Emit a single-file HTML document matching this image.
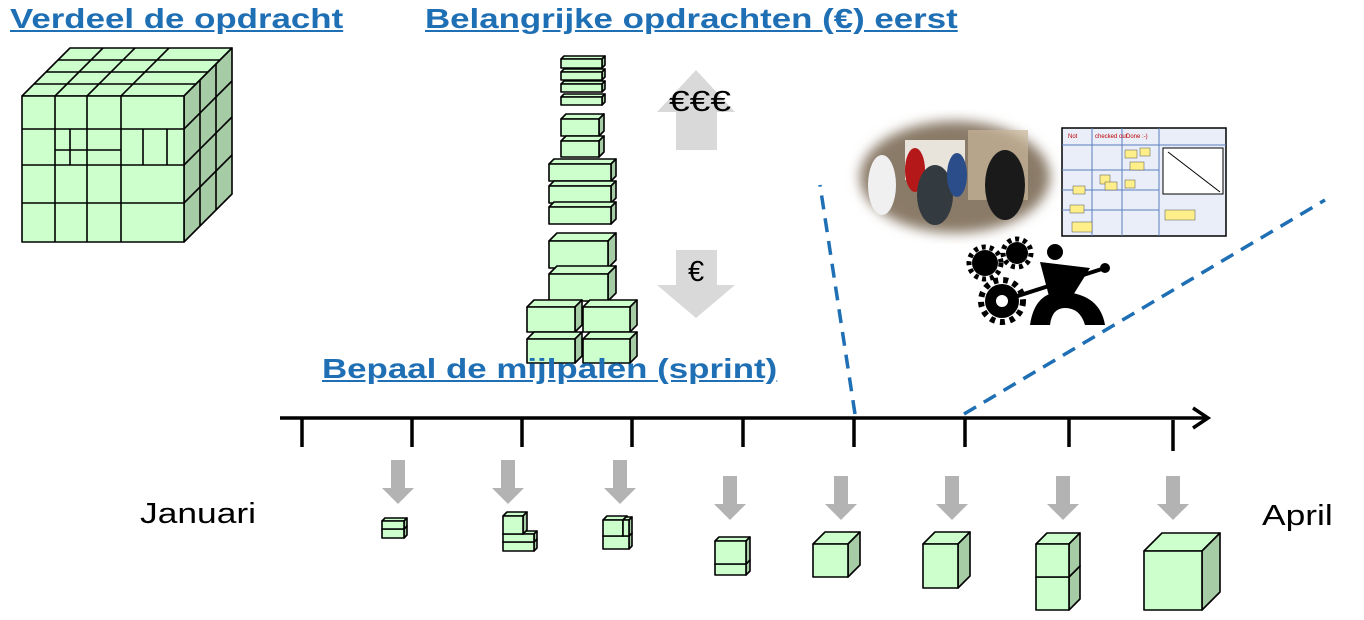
<!DOCTYPE html>
<html><head><meta charset="utf-8"><style>
body{margin:0;width:1364px;height:620px;background:#fff;overflow:hidden;position:relative;font-family:"Liberation Sans",Arial,sans-serif}
.t{position:absolute;color:#1f6fb5;font-weight:bold;font-size:28px;text-decoration:underline;white-space:nowrap;transform:scaleX(1.245);transform-origin:0 0}
.l{position:absolute;font-size:29px;color:#000;white-space:nowrap;transform:scaleX(1.22);transform-origin:0 0}
svg{position:absolute;left:0;top:0}
</style></head><body>
<svg id="s" width="1364" height="620" viewBox="0 0 1364 620">
<defs><filter id="bl"><feGaussianBlur stdDeviation="6"/></filter></defs>
<polygon points="696,70 735,112 717,112 717,150 676,150 676,112 657,112" fill="#d9d9d9"/>
<polygon points="676,250 717,250 717,285 735,285 696,318 657,285 676,285" fill="#d9d9d9"/>
<text x="669" y="111" font-size="29" font-family="Liberation Sans" textLength="62" lengthAdjust="spacingAndGlyphs">€€€</text>
<text x="688" y="281" font-size="29" font-family="Liberation Sans">€</text>
<line x1="280" y1="418" x2="1206" y2="418" stroke="#000" stroke-width="3.5"/>
<polyline points="1193,408 1208,418 1193,428" fill="none" stroke="#000" stroke-width="3.5"/>
<g stroke="#000" stroke-width="3.5">
<line x1="302" y1="418" x2="302" y2="447"/><line x1="412" y1="418" x2="412" y2="447"/><line x1="522" y1="418" x2="522" y2="447"/><line x1="632" y1="418" x2="632" y2="447"/><line x1="743" y1="418" x2="743" y2="447"/><line x1="854" y1="418" x2="854" y2="447"/><line x1="965" y1="418" x2="965" y2="447"/><line x1="1069" y1="418" x2="1069" y2="447"/><line x1="1173" y1="420" x2="1173" y2="451"/>
</g>
<g stroke="#1f6fb5" stroke-width="3.5" stroke-dasharray="14 9" fill="none">
<line x1="855" y1="414" x2="820" y2="185"/>
<line x1="964" y1="414" x2="1325" y2="200"/>
</g>
<g>
<ellipse cx="955" cy="177" rx="95" ry="56" fill="#8a7a68" filter="url(#bl)"/>
<rect x="905" y="140" width="60" height="40" fill="#e8e4dc"/>
<rect x="968" y="130" width="60" height="70" fill="#c9b79a" opacity=".7"/>
<ellipse cx="882" cy="185" rx="14" ry="30" fill="#f0f0f0"/>
<ellipse cx="915" cy="170" rx="10" ry="22" fill="#b41818"/>
<ellipse cx="935" cy="195" rx="18" ry="30" fill="#333a40"/>
<ellipse cx="957" cy="175" rx="10" ry="22" fill="#2b4e8a"/>
<ellipse cx="1005" cy="185" rx="20" ry="35" fill="#1a1a1a"/>
</g>
<rect x="1062" y="128" width="164" height="108" fill="#e9eef8" stroke="#000" stroke-width="1.5"/>
<g stroke="#5a7fc0" stroke-width="1">
<line x1="1092" y1="128" x2="1092" y2="236"/><line x1="1122" y1="128" x2="1122" y2="236"/><line x1="1159" y1="128" x2="1159" y2="236"/>
<line x1="1062" y1="145" x2="1226" y2="145"/><line x1="1062" y1="170" x2="1159" y2="170"/><line x1="1062" y1="190" x2="1159" y2="190"/><line x1="1062" y1="210" x2="1159" y2="210"/>
</g>
<rect x="1163" y="148" width="60" height="46" fill="#fff" stroke="#000"/>
<line x1="1168" y1="152" x2="1220" y2="192" stroke="#000"/>
<g fill="#ffef8a" stroke="#555" stroke-width=".5">
<rect x="1125" y="150" width="12" height="8"/><rect x="1140" y="148" width="10" height="8"/><rect x="1130" y="162" width="14" height="8"/><rect x="1100" y="175" width="10" height="9"/><rect x="1105" y="182" width="12" height="8"/><rect x="1073" y="186" width="12" height="8"/><rect x="1070" y="205" width="14" height="8"/><rect x="1072" y="222" width="20" height="10"/><rect x="1165" y="210" width="30" height="10"/><rect x="1125" y="180" width="10" height="8"/>
</g>
<text x="1068" y="138" font-size="6" fill="#b00">Not</text><text x="1095" y="138" font-size="6" fill="#b00">checked out</text><text x="1126" y="138" font-size="6" fill="#b00">Done :-)</text>
<g fill="#000">
<circle cx="985" cy="263" r="13"/><circle cx="1017" cy="253" r="11"/><circle cx="1002" cy="301" r="17"/>
<circle cx="985" cy="263" r="16" fill="none" stroke="#000" stroke-width="5" stroke-dasharray="4 4"/>
<circle cx="1017" cy="253" r="14" fill="none" stroke="#000" stroke-width="5" stroke-dasharray="4 4"/>
<circle cx="1002" cy="301" r="21" fill="none" stroke="#000" stroke-width="6" stroke-dasharray="5 5"/>
<circle cx="1055" cy="252" r="8"/>
<polygon points="1040,262 1090,268 1070,300 1050,300"/>
<path d="M1030,325 Q1035,290 1065,292 Q1100,295 1105,325 L1085,325 Q1080,308 1065,308 Q1052,308 1050,325Z"/>
<line x1="1005" y1="300" x2="1105" y2="268" stroke="#000" stroke-width="4"/>
<circle cx="1105" cy="268" r="5"/>
<circle cx="1002" cy="301" r="6" fill="#fff"/>
</g>
</svg>
<div class="t" style="left:10px;top:3px">Verdeel de opdracht</div>
<div class="t" style="left:425px;top:3px">Belangrijke opdrachten (€) eerst</div>
<div class="t" style="left:322px;top:353px">Bepaal de mijlpalen (sprint)</div>
<div class="l" style="left:140px;top:498px">Januari</div>
<div class="l" style="left:1262px;top:500px">April</div>
<script>
var s=document.getElementById('s'),NS='http://www.w3.org/2000/svg';
function P(pts,f){var p=document.createElementNS(NS,'polygon');p.setAttribute('points',pts);p.setAttribute('fill',f);p.setAttribute('stroke','#000');p.setAttribute('stroke-width','1.6');p.setAttribute('stroke-linejoin','round');s.appendChild(p);}
function B(x,y,w,h,d){
P(x+','+y+' '+(x+d)+','+(y-d)+' '+(x+w+d)+','+(y-d)+' '+(x+w)+','+y,'#ccffcc');
P((x+w)+','+y+' '+(x+w+d)+','+(y-d)+' '+(x+w+d)+','+(y+h-d)+' '+(x+w)+','+(y+h),'#a6cca6');
P(x+','+y+' '+(x+w)+','+y+' '+(x+w)+','+(y+h)+' '+x+','+(y+h),'#ccffcc');}
function L(a,b,c,d){var l=document.createElementNS(NS,'line');l.setAttribute('x1',a);l.setAttribute('y1',b);l.setAttribute('x2',c);l.setAttribute('y2',d);l.setAttribute('stroke','#000');l.setAttribute('stroke-width','1.6');s.appendChild(l);}
function A(cx,y){var p=document.createElementNS(NS,'polygon');p.setAttribute('points',(cx-7)+','+y+' '+(cx+7)+','+y+' '+(cx+7)+','+(y+28)+' '+(cx+16)+','+(y+28)+' '+cx+','+(y+44)+' '+(cx-16)+','+(y+28)+' '+(cx-7)+','+(y+28));p.setAttribute('fill','#b3b3b3');s.appendChild(p);}
B(22,96,162,146,48);
[55,87,121].forEach(function(x){L(x,96,x,242);});
[129,165,203].forEach(function(y){L(22,y,184,y);});
L(55,150,121,150);L(70,129,70,165);L(143,129,143,165);L(167,129,167,165);
for(var i=1;i<4;i++){var t=i/4;L(22+48*t,96-48*t,184+48*t,96-48*t);}
[55,87,121].forEach(function(x){L(x,96,x+48,48);});
[129,165,203].forEach(function(y){L(184,y,232,y-48);});
L(200,96-16,200,242-16);L(216,96-32,216,242-32);
B(561,59,41,9,3);B(561,72,41,8,3);B(561,84,41,8,3);B(561,97,41,8,3);
B(561,119,38,17,5);B(561,141,38,16,5);
B(549,164,62,17,5);B(549,186,62,17,5);B(549,207,62,17,5);
B(549,241,59,27,8);B(549,274,59,27,8);
B(527,307,48,25,7);B(583,307,47,25,7);B(527,339,48,24,7);B(583,339,47,24,7);
A(398,460);A(508,460);A(620,460);A(730,476);A(841,476);A(952,476);A(1063,476);A(1173,476);
B(382,529,22,9,3);B(382,521,22,8,3);
B(503,542,31,9,3);B(503,534,31,8,3);B(503,516,20,18,4);
B(603,536,26,13,3);B(603,520,20,16,4);B(623,520,6,16,3);
B(715,564,31,11,4);B(715,541,31,23,4);
B(813,544,35,33,12);
B(923,544,35,44,12);
B(1036,577,33,33,11);B(1036,544,33,33,11);
B(1144,551,58,59,18);
</script>
</body></html>
